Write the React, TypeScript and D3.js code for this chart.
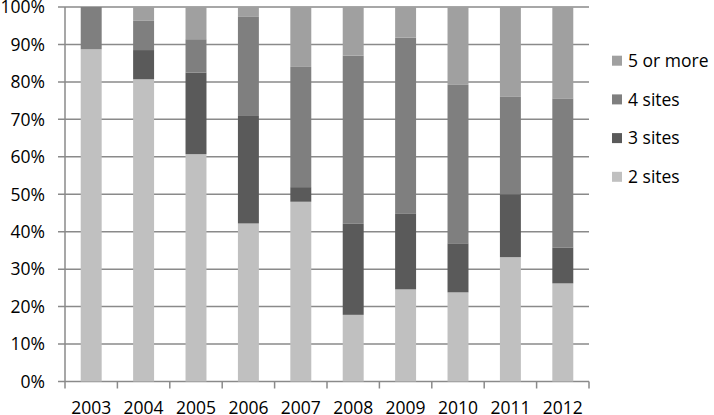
import { useEffect, useRef } from 'react';
import * as d3 from 'd3';

const years = ['2003', '2004', '2005', '2006', '2007', '2008', '2009', '2010', '2011', '2012'];
const seriesNames = ['2 sites', '3 sites', '4 sites', '5 or more'];
const twoSites = [88.7, 80.7, 60.7, 42.2, 48.0, 17.8, 24.6, 23.8, 33.2, 26.2];
const threeSites = [0, 7.8, 21.8, 28.7, 3.9, 24.3, 20.3, 13.1, 16.8, 9.6];
const fourSites = [11.3, 7.8, 8.9, 26.6, 32.1, 44.9, 46.9, 42.3, 26.0, 39.8];
const fiveOrMore = [0, 3.7, 8.6, 2.5, 16.0, 13.0, 8.2, 20.8, 24.0, 24.4];
const yTicks = [0, 10, 20, 30, 40, 50, 60, 70, 80, 90, 100];
const colors = ['#c0c0c0', '#5a5a5a', '#7f7f7f', '#a0a0a0'];

export default function App() {
  const svgRef = useRef<SVGSVGElement>(null);

  useEffect(() => {
    if (!svgRef.current) return;
    const svg = d3.select(svgRef.current);
    svg.selectAll('*').remove();

    const left = 65, right = 589, top = 7, bottom = 381.5;
    const font = '"Open Sans", sans-serif';
    const fontSize = '17.5px';

    const rows = years.map((y, i) => ({
      year: y,
      '2 sites': twoSites[i],
      '3 sites': threeSites[i],
      '4 sites': fourSites[i],
      '5 or more': fiveOrMore[i],
    }));
    const stacked = d3.stack<any>().keys(seriesNames)(rows);

    const x = d3.scaleBand().domain(years).range([left, right]).paddingInner(0.6).paddingOuter(0.3);
    const y = d3.scaleLinear().domain([0, 100]).range([bottom, top]);

    // grid lines
    svg.append('g')
      .selectAll('line')
      .data(yTicks)
      .enter()
      .append('line')
      .attr('x1', left - 7)
      .attr('x2', right)
      .attr('y1', d => y(d))
      .attr('y2', d => y(d))
      .attr('stroke', '#8a8a8a')
      .attr('stroke-width', 1.5);

    // bars
    svg.append('g')
      .selectAll('g')
      .data(stacked)
      .enter()
      .append('g')
      .attr('fill', (_, i) => colors[i])
      .selectAll('rect')
      .data(d => d)
      .enter()
      .append('rect')
      .attr('x', d => x(d.data.year) as number)
      .attr('width', x.bandwidth())
      .attr('y', d => y(d[1]))
      .attr('height', d => y(d[0]) - y(d[1]));

    // y axis line
    svg.append('line')
      .attr('x1', left).attr('x2', left)
      .attr('y1', top).attr('y2', bottom)
      .attr('stroke', '#8a8a8a').attr('stroke-width', 1.5);

    // x tick marks at category boundaries
    const step = x.step();
    const bounds = d3.range(years.length + 1).map(i => left + i * step);
    svg.append('g')
      .selectAll('line')
      .data(bounds)
      .enter()
      .append('line')
      .attr('x1', d => d).attr('x2', d => d)
      .attr('y1', bottom).attr('y2', bottom + 7)
      .attr('stroke', '#8a8a8a').attr('stroke-width', 1.5);

    // y labels
    svg.append('g')
      .selectAll('text')
      .data(yTicks)
      .enter()
      .append('text')
      .attr('x', 45)
      .attr('y', d => y(d))
      .attr('dy', '0.36em')
      .attr('text-anchor', 'end')
      .style('font-family', font)
      .style('font-size', fontSize)
      .attr('fill', '#000')
      .text(d => `${d}%`);

    // x labels
    svg.append('g')
      .selectAll('text')
      .data(years)
      .enter()
      .append('text')
      .attr('x', d => (x(d) as number) + x.bandwidth() / 2)
      .attr('y', 414)
      .attr('text-anchor', 'middle')
      .style('font-family', font)
      .style('font-size', fontSize)
      .attr('fill', '#000')
      .text(d => d);

    // legend
    const legendOrder = [3, 2, 1, 0];
    const lg = svg.append('g')
      .selectAll('g')
      .data(legendOrder)
      .enter()
      .append('g')
      .attr('transform', (_, i) => `translate(612,${60.7 + i * 38.7})`);
    lg.append('rect')
      .attr('x', 0).attr('y', -5)
      .attr('width', 10).attr('height', 10)
      .attr('fill', d => colors[d]);
    lg.append('text')
      .attr('x', 16)
      .attr('dy', '0.36em')
      .style('font-family', font)
      .style('font-size', fontSize)
      .attr('fill', '#000')
      .text(d => seriesNames[d]);
  }, []);

  return (
    <svg
      ref={svgRef}
      width={714}
      height={415}
      style={{ position: 'absolute', left: 0, top: 0, background: '#fff' }}
    />
  );
}
